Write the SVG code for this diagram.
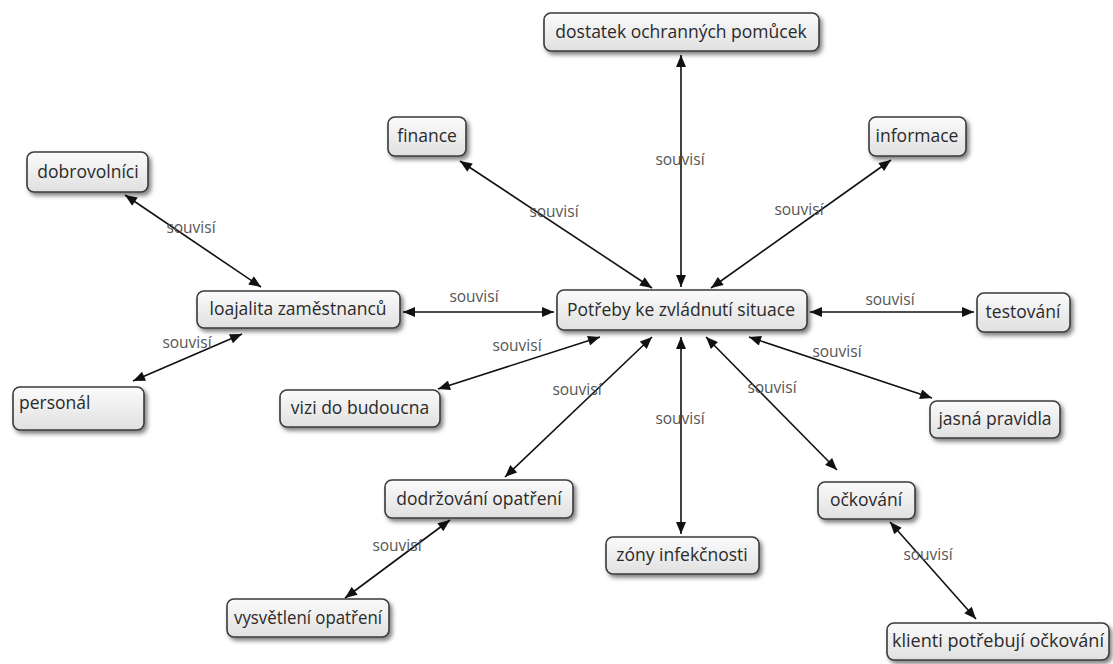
<svg xmlns="http://www.w3.org/2000/svg" width="1113" height="664" viewBox="0 0 1113 664">
  <defs>
    <linearGradient id="nodeFill" x1="0" y1="0" x2="0" y2="1">
      <stop offset="0" stop-color="#fbfbfb"/>
      <stop offset="1" stop-color="#e0e0e0"/>
    </linearGradient>
    <filter id="shadow" x="-20%" y="-30%" width="140%" height="180%">
      <feDropShadow dx="2.5" dy="3" stdDeviation="2" flood-color="#000" flood-opacity="0.5"/>
    </filter>
    <marker id="arrow" viewBox="0 0 12 10" refX="12" refY="5" markerWidth="13" markerHeight="10" markerUnits="userSpaceOnUse" orient="auto-start-reverse">
      <path d="M0,0 L12,5 L0,10 z" fill="#111"/>
    </marker>
  </defs>
  <style>
    .box { fill: url(#nodeFill); stroke: #3a3a3a; stroke-width: 1.6; filter: url(#shadow); }
    .lbl { font-family: "Open Sans", "DejaVu Sans", sans-serif; font-size: 17.5px; fill: #2a2a2a; text-anchor: middle; }
    .edge { stroke: #111; stroke-width: 1.6; fill: none; marker-start: url(#arrow); marker-end: url(#arrow); }
    .rel { font-family: "Open Sans", "DejaVu Sans", sans-serif; font-size: 15.5px; fill: #555; text-anchor: middle; }
  </style>
  <rect width="1113" height="664" fill="#fff"/>

  <!-- connectors -->
  <g id="connectors">
    <line class="edge" x1="681" y1="55" x2="681" y2="287"/>
    <line class="edge" x1="460" y1="161" x2="652" y2="288"/>
    <line class="edge" x1="891" y1="160" x2="711" y2="288"/>
    <line class="edge" x1="403" y1="312" x2="554" y2="312"/>
    <line class="edge" x1="810" y1="312" x2="974" y2="312"/>
    <line class="edge" x1="600" y1="337" x2="438" y2="389"/>
    <line class="edge" x1="749" y1="337" x2="932" y2="398"/>
    <line class="edge" x1="652" y1="337" x2="505" y2="477"/>
    <line class="edge" x1="681" y1="337" x2="681" y2="534"/>
    <line class="edge" x1="706" y1="337" x2="837" y2="470"/>
    <line class="edge" x1="125" y1="195" x2="261" y2="287"/>
    <line class="edge" x1="242" y1="334" x2="133" y2="381"/>
    <line class="edge" x1="450" y1="520" x2="345" y2="598"/>
    <line class="edge" x1="890" y1="522" x2="976" y2="619"/>
    <text class="rel" x="680" y="165">souvisí</text>
    <text class="rel" x="554" y="217">souvisí</text>
    <text class="rel" x="799" y="215">souvisí</text>
    <text class="rel" x="474" y="302">souvisí</text>
    <text class="rel" x="890" y="305">souvisí</text>
    <text class="rel" x="517" y="351">souvisí</text>
    <text class="rel" x="837" y="357">souvisí</text>
    <text class="rel" x="577" y="395">souvisí</text>
    <text class="rel" x="680" y="424">souvisí</text>
    <text class="rel" x="772" y="393">souvisí</text>
    <text class="rel" x="191" y="233">souvisí</text>
    <text class="rel" x="187" y="348">souvisí</text>
    <text class="rel" x="397" y="551">souvisí</text>
    <text class="rel" x="928" y="560">souvisí</text>
  </g>

  <!-- nodes -->
  <g id="n-potreby">
    <rect class="box" x="557" y="290" width="250" height="40" rx="7"/>
    <text class="lbl" x="681" y="316">Potřeby ke zvládnutí situace</text>
  </g>
  <g id="n-dostatek">
    <rect class="box" x="544" y="13" width="275" height="38" rx="7"/>
    <text class="lbl" x="681" y="38">dostatek ochranných pomůcek</text>
  </g>
  <g id="n-finance">
    <rect class="box" x="388" y="117" width="78" height="39" rx="7"/>
    <text class="lbl" x="427" y="142">finance</text>
  </g>
  <g id="n-informace">
    <rect class="box" x="869" y="117" width="97" height="39" rx="7"/>
    <text class="lbl" x="917" y="142">informace</text>
  </g>
  <g id="n-dobrovolnici">
    <rect class="box" x="27" y="152" width="121" height="40" rx="7"/>
    <text class="lbl" x="88" y="178">dobrovolníci</text>
  </g>
  <g id="n-loajalita">
    <rect class="box" x="197" y="291" width="203" height="37" rx="7"/>
    <text class="lbl" x="298" y="315">loajalita zaměstnanců</text>
  </g>
  <g id="n-testovani">
    <rect class="box" x="977" y="293" width="93" height="39" rx="7"/>
    <text class="lbl" x="1023" y="318">testování</text>
  </g>
  <g id="n-personal">
    <rect class="box" x="13" y="387" width="131" height="43" rx="7"/>
    <text class="lbl" x="19" y="409" style="text-anchor:start">personál</text>
  </g>
  <g id="n-vizi">
    <rect class="box" x="280" y="390" width="160" height="37" rx="7"/>
    <text class="lbl" x="360" y="414">vizi do budoucna</text>
  </g>
  <g id="n-jasna">
    <rect class="box" x="930" y="401" width="130" height="37" rx="7"/>
    <text class="lbl" x="995" y="425">jasná pravidla</text>
  </g>
  <g id="n-dodrzovani">
    <rect class="box" x="385" y="480" width="188" height="38" rx="7"/>
    <text class="lbl" x="479" y="505">dodržování opatření</text>
  </g>
  <g id="n-ockovani">
    <rect class="box" x="818" y="482" width="97" height="37" rx="7"/>
    <text class="lbl" x="866" y="506">očkování</text>
  </g>
  <g id="n-zony">
    <rect class="box" x="606" y="537" width="153" height="37" rx="7"/>
    <text class="lbl" x="682" y="561">zóny infekčnosti</text>
  </g>
  <g id="n-vysvetleni">
    <rect class="box" x="227" y="599" width="162" height="38" rx="7"/>
    <text class="lbl" x="308" y="624" textLength="148" lengthAdjust="spacingAndGlyphs">vysvětlení opatření</text>
  </g>
  <g id="n-klienti">
    <rect class="box" x="887" y="623" width="222" height="37" rx="7"/>
    <text class="lbl" x="998" y="647" textLength="212" lengthAdjust="spacingAndGlyphs">klienti potřebují očkování</text>
  </g>
</svg>
